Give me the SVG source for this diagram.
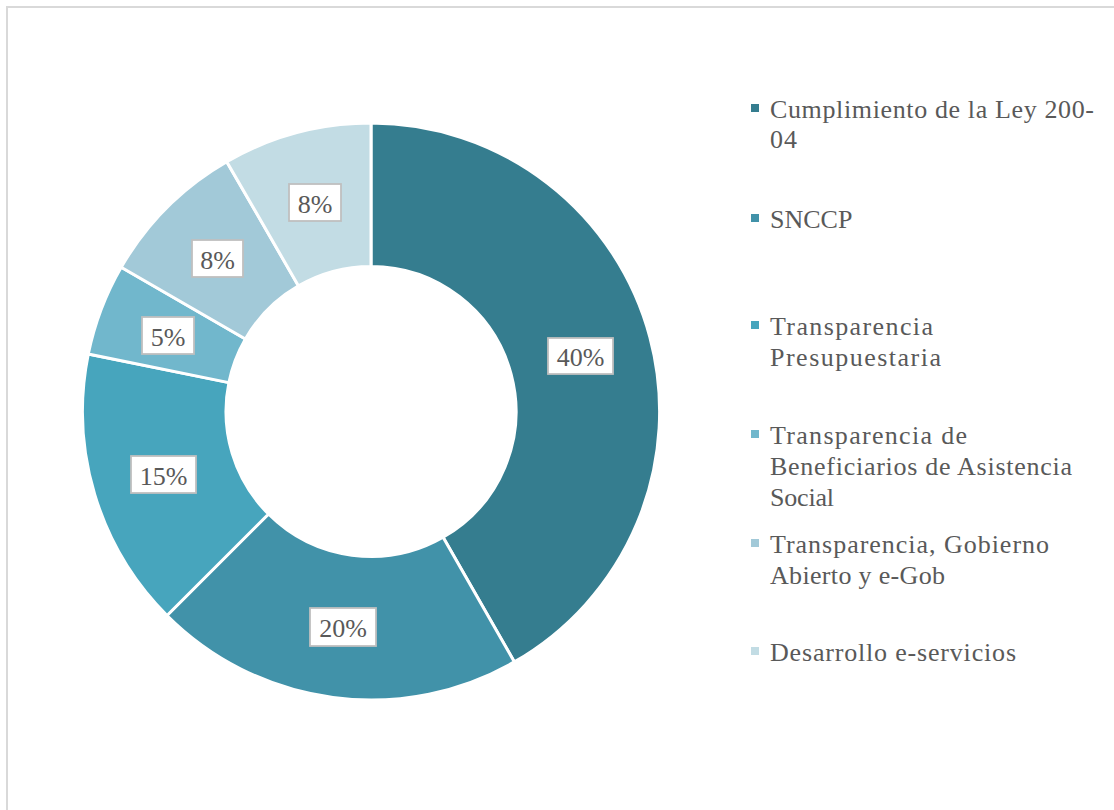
<svg xmlns="http://www.w3.org/2000/svg" width="1114" height="810" viewBox="0 0 1114 810">
<style>
.seg{stroke:#ffffff;stroke-width:3;stroke-linejoin:miter}
.lbox{fill:#ffffff;stroke:#bfbfbf;stroke-width:1.8}
.ltxt{font-family:"Liberation Serif","Times New Roman",serif;font-size:26px;fill:#595959;text-anchor:middle}
.leg{font-family:"Liberation Serif","Times New Roman",serif;font-size:26px;fill:#595959}
</style>
<rect x="0" y="0" width="1114" height="810" fill="#ffffff"/>
<rect x="7" y="7" width="1200" height="900" fill="none" stroke="#d9d9d9" stroke-width="2"/>
<g id="donut">
<g id="seg-ley"><path class="seg" fill="#357d8f" d="M371,123 A288.5,288.5 0 0 1 514.4,661.9 L443.1,537.3 A145,145 0 0 0 371,266.5 Z"/></g>
<g id="seg-snccp"><path class="seg" fill="#4192a9" d="M514.4,661.9 A288.5,288.5 0 0 1 167,615.5 L268.5,514 A145,145 0 0 0 443.1,537.3 Z"/></g>
<g id="seg-presup"><path class="seg" fill="#47a5bd" d="M167,615.5 A288.5,288.5 0 0 1 88.3,354 L228.9,382.6 A145,145 0 0 0 268.5,514 Z"/></g>
<g id="seg-benef"><path class="seg" fill="#71b7cc" d="M88.3,354 A288.5,288.5 0 0 1 121.2,267.25 L245.4,339 A145,145 0 0 0 228.9,382.6 Z"/></g>
<g id="seg-gob"><path class="seg" fill="#a2c9d8" d="M121.2,267.25 A288.5,288.5 0 0 1 226.75,161.7 L298.5,285.9 A145,145 0 0 0 245.4,339 Z"/></g>
<g id="seg-eserv"><path class="seg" fill="#c2dce4" d="M226.75,161.7 A288.5,288.5 0 0 1 371,123 L371,266.5 A145,145 0 0 0 298.5,285.9 Z"/></g>
</g>
<g id="labels">
<g id="lbl-40"><rect class="lbox" x="548" y="338" width="65" height="36"/><text class="ltxt" x="580.5" y="366">40%</text></g>
<g id="lbl-20"><rect class="lbox" x="310" y="608" width="66" height="38"/><text class="ltxt" x="343" y="637">20%</text></g>
<g id="lbl-15"><rect class="lbox" x="131" y="456" width="65" height="37"/><text class="ltxt" x="163.5" y="485">15%</text></g>
<g id="lbl-5"><rect class="lbox" x="142" y="317" width="52" height="37"/><text class="ltxt" x="168" y="346">5%</text></g>
<g id="lbl-8a"><rect class="lbox" x="192" y="240" width="51" height="37"/><text class="ltxt" x="217.5" y="269">8%</text></g>
<g id="lbl-8b"><rect class="lbox" x="289" y="184" width="52" height="37"/><text class="ltxt" x="315" y="213">8%</text></g>
</g>
<g id="legend">
<g id="leg-ley"><rect x="751" y="104" width="8" height="8" fill="#357d8f"/>
<text class="leg" x="770" y="118" textLength="324">Cumplimiento de la Ley 200-</text>
<text class="leg" x="770" y="148" textLength="27">04</text></g>
<g id="leg-snccp"><rect x="751" y="214" width="8" height="8" fill="#4192a9"/>
<text class="leg" x="770" y="228">SNCCP</text></g>
<g id="leg-presup"><rect x="751" y="321" width="8" height="8" fill="#47a5bd"/>
<text class="leg" x="770" y="335" textLength="163">Transparencia</text>
<text class="leg" x="770" y="366" textLength="171">Presupuestaria</text></g>
<g id="leg-benef"><rect x="751" y="430" width="8" height="8" fill="#71b7cc"/>
<text class="leg" x="770" y="444" textLength="197">Transparencia de</text>
<text class="leg" x="770" y="475" textLength="302">Beneficiarios de Asistencia</text>
<text class="leg" x="770" y="506" textLength="64">Social</text></g>
<g id="leg-gob"><rect x="751" y="539" width="8" height="8" fill="#a2c9d8"/>
<text class="leg" x="770" y="553" textLength="279">Transparencia, Gobierno</text>
<text class="leg" x="770" y="584" textLength="175">Abierto y e-Gob</text></g>
<g id="leg-eserv"><rect x="751" y="647" width="8" height="8" fill="#c2dce4"/>
<text class="leg" x="770" y="661" textLength="246">Desarrollo e-servicios</text></g>
</g>
</svg>
